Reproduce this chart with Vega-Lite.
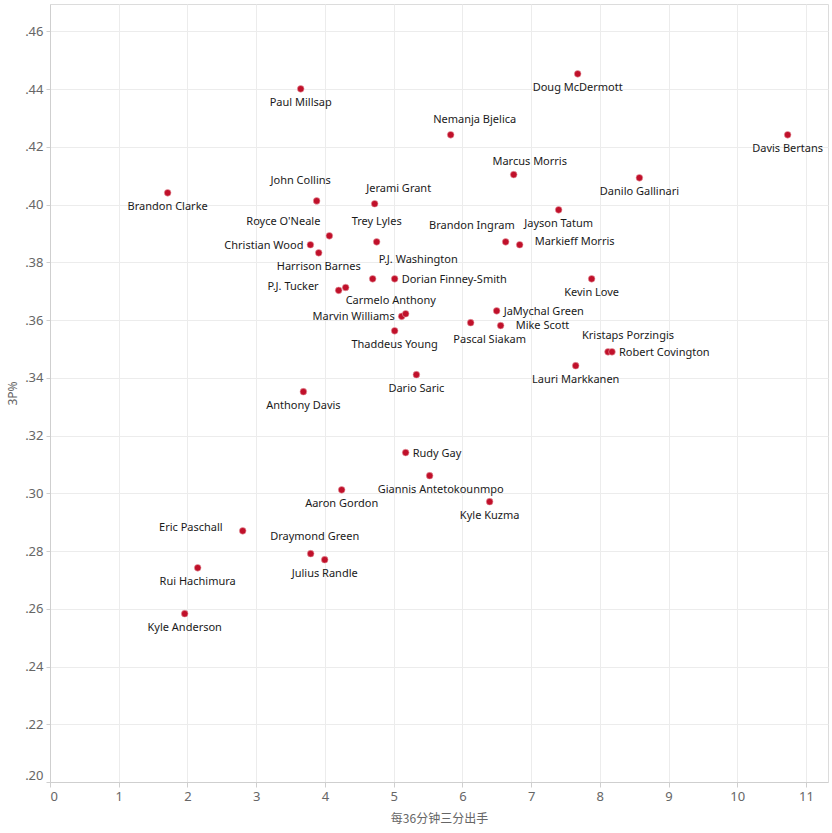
{
  "$schema": "https://vega.github.io/schema/vega-lite/v6.json",
  "width": 778,
  "height": 778,
  "autosize": "none",
  "padding": {"left": 50, "top": 4, "right": 4, "bottom": 51},
  "background": "white",
  "config": {
    "view": {"stroke": "#dcdcdc"},
    "text": {"font": "Noto Sans", "fontSize": 11, "color": "#1a1a1a", "baseline": "middle"}
  },
  "data": {"values": [
    {"player": "Paul Millsap", "x": 3.648, "y": 0.4401},
    {"player": "Brandon Clarke", "x": 1.712, "y": 0.4041},
    {"player": "John Collins", "x": 3.880, "y": 0.4013},
    {"player": "Jerami Grant", "x": 4.724, "y": 0.4003},
    {"player": "Royce O'Neale", "x": 4.065, "y": 0.3892},
    {"player": "Trey Lyles", "x": 4.753, "y": 0.3871},
    {"player": "Christian Wood", "x": 3.789, "y": 0.3861},
    {"player": "Harrison Barnes", "x": 3.910, "y": 0.3833},
    {"player": "P.J. Washington", "x": 4.695, "y": 0.3743},
    {"player": "Dorian Finney-Smith", "x": 5.015, "y": 0.3743},
    {"player": "P.J. Tucker", "x": 4.200, "y": 0.3703},
    {"player": "Carmelo Anthony", "x": 4.302, "y": 0.3713},
    {"player": "Marvin Williams", "x": 5.117, "y": 0.3613},
    {"player": "", "x": 5.175, "y": 0.3622},
    {"player": "Thaddeus Young", "x": 5.015, "y": 0.3563},
    {"player": "Dario Saric", "x": 5.331, "y": 0.3411},
    {"player": "Anthony Davis", "x": 3.687, "y": 0.3352},
    {"player": "Doug McDermott", "x": 7.678, "y": 0.4453},
    {"player": "Nemanja Bjelica", "x": 5.830, "y": 0.4242},
    {"player": "Davis Bertans", "x": 10.733, "y": 0.4242},
    {"player": "Marcus Morris", "x": 6.747, "y": 0.4104},
    {"player": "Danilo Gallinari", "x": 8.576, "y": 0.4093},
    {"player": "Jayson Tatum", "x": 7.401, "y": 0.3982},
    {"player": "Brandon Ingram", "x": 6.630, "y": 0.3871},
    {"player": "Markieff Morris", "x": 6.834, "y": 0.3861},
    {"player": "Kevin Love", "x": 7.881, "y": 0.3743},
    {"player": "JaMychal Green", "x": 6.499, "y": 0.3632},
    {"player": "Pascal Siakam", "x": 6.121, "y": 0.3591},
    {"player": "Mike Scott", "x": 6.557, "y": 0.3581},
    {"player": "Kristaps Porzingis", "x": 8.119, "y": 0.3490},
    {"player": "Robert Covington", "x": 8.177, "y": 0.3490},
    {"player": "Lauri Markkanen", "x": 7.649, "y": 0.3442},
    {"player": "Rudy Gay", "x": 5.175, "y": 0.3141},
    {"player": "Giannis Antetokounmpo", "x": 5.524, "y": 0.3061},
    {"player": "Kyle Kuzma", "x": 6.397, "y": 0.2971},
    {"player": "Aaron Gordon", "x": 4.244, "y": 0.3012},
    {"player": "Eric Paschall", "x": 2.804, "y": 0.2870},
    {"player": "Draymond Green", "x": 3.793, "y": 0.2791},
    {"player": "Julius Randle", "x": 3.997, "y": 0.2770},
    {"player": "Rui Hachimura", "x": 2.149, "y": 0.2742},
    {"player": "Kyle Anderson", "x": 1.960, "y": 0.2583}
  ]},
  "encoding": {
    "x": {
      "field": "x", "type": "quantitative",
      "scale": {"domain": [0, 11.32], "nice": false, "zero": false},
      "axis": {
        "title": "每36分钟三分出手",
        "titleFont": "Noto Sans CJK SC", "titleFontSize": 12, "titleFontWeight": "normal", "titleColor": "#666",
        "titlePadding": 10,
        "values": [0,1,2,3,4,5,6,7,8,9,10,11],
        "labelFlush": true,
        "labelFont": "Noto Sans", "labelFontSize": 13, "labelColor": "#666", "labelPadding": 3,
        "gridColor": "#ececec", "domainColor": "#cfcfcf", "tickColor": "#cfcfcf", "tickSize": 5
      }
    },
    "y": {
      "field": "y", "type": "quantitative",
      "scale": {"domain": [0.2, 0.4695], "nice": false, "zero": false},
      "axis": {
        "title": "3P%",
        "titleFont": "Noto Sans", "titleFontSize": 12, "titleFontWeight": "normal", "titleColor": "#666",
        "titlePadding": 5,
        "values": [0.2,0.22,0.24,0.26,0.28,0.3,0.32,0.34,0.36,0.38,0.4,0.42,0.44,0.46],
        "labelExpr": "replace(format(datum.value, '.2f'), '0.', '.')",
        "labelFlush": true,
        "labelFont": "Noto Sans", "labelFontSize": 13, "labelColor": "#666", "labelPadding": 3,
        "gridColor": "#ececec", "domainColor": "#cfcfcf", "tickColor": "#cfcfcf", "tickSize": 4
      }
    }
  },
  "layer": [
    {"mark": {"type": "point", "shape": "circle", "filled": true, "size": 45, "color": "#c0102a", "opacity": 1, "stroke": "#e8a0a8", "strokeWidth": 0.6}},
    {"transform": [{"filter": {"field": "player", "oneOf": ["Paul Millsap","Doug McDermott","Davis Bertans","Danilo Gallinari","Brandon Clarke","Jayson Tatum","Harrison Barnes","Kevin Love","Thaddeus Young","Lauri Markkanen","Dario Saric","Anthony Davis","Aaron Gordon","Kyle Kuzma","Julius Randle","Rui Hachimura","Kyle Anderson"]}}],
     "mark": {"type": "text", "align": "center", "dy": 14}, "encoding": {"text": {"field": "player"}}},
    {"transform": [{"filter": {"field": "player", "oneOf": ["Pascal Siakam"]}}],
     "mark": {"type": "text", "align": "center", "dx": 19, "dy": 17}, "encoding": {"text": {"field": "player"}}},
    {"transform": [{"filter": {"field": "player", "oneOf": ["Giannis Antetokounmpo"]}}],
     "mark": {"type": "text", "align": "center", "dx": 11, "dy": 14}, "encoding": {"text": {"field": "player"}}},
    {"transform": [{"filter": {"field": "player", "oneOf": ["Trey Lyles"]}}],
     "mark": {"type": "text", "align": "center", "dy": -20}, "encoding": {"text": {"field": "player"}}},
    {"transform": [{"filter": {"field": "player", "oneOf": ["John Collins"]}}],
     "mark": {"type": "text", "align": "center", "dx": -16, "dy": -20}, "encoding": {"text": {"field": "player"}}},
    {"transform": [{"filter": {"field": "player", "oneOf": ["Nemanja Bjelica", "Jerami Grant"]}}],
     "mark": {"type": "text", "align": "center", "dx": 24, "dy": -15}, "encoding": {"text": {"field": "player"}}},
    {"transform": [{"filter": {"field": "player", "oneOf": ["Marcus Morris"]}}],
     "mark": {"type": "text", "align": "center", "dx": 16, "dy": -13}, "encoding": {"text": {"field": "player"}}},
    {"transform": [{"filter": {"field": "player", "oneOf": ["Draymond Green"]}}],
     "mark": {"type": "text", "align": "center", "dx": 4, "dy": -17}, "encoding": {"text": {"field": "player"}}},
    {"transform": [{"filter": {"field": "player", "oneOf": ["Dorian Finney-Smith","Rudy Gay","JaMychal Green","Robert Covington"]}}],
     "mark": {"type": "text", "align": "left", "dx": 7, "dy": 1}, "encoding": {"text": {"field": "player"}}},
    {"transform": [{"filter": {"field": "player", "oneOf": ["Markieff Morris"]}}],
     "mark": {"type": "text", "align": "left", "dx": 15, "dy": -3}, "encoding": {"text": {"field": "player"}}},
    {"transform": [{"filter": {"field": "player", "oneOf": ["Mike Scott"]}}],
     "mark": {"type": "text", "align": "left", "dx": 15, "dy": 0}, "encoding": {"text": {"field": "player"}}},
    {"transform": [{"filter": {"field": "player", "oneOf": ["Christian Wood","Marvin Williams"]}}],
     "mark": {"type": "text", "align": "right", "dx": -7, "dy": 1}, "encoding": {"text": {"field": "player"}}},
    {"transform": [{"filter": {"field": "player", "oneOf": ["Eric Paschall","P.J. Tucker"]}}],
     "mark": {"type": "text", "align": "right", "dx": -20, "dy": -3}, "encoding": {"text": {"field": "player"}}},
    {"transform": [{"filter": {"field": "player", "oneOf": ["Royce O'Neale"]}}],
     "mark": {"type": "text", "align": "right", "dx": -9, "dy": -14}, "encoding": {"text": {"field": "player"}}},
    {"transform": [{"filter": {"field": "player", "oneOf": ["Brandon Ingram"]}}],
     "mark": {"type": "text", "align": "right", "dx": 9, "dy": -16}, "encoding": {"text": {"field": "player"}}},
    {"transform": [{"filter": {"field": "player", "oneOf": ["P.J. Washington"]}}],
     "mark": {"type": "text", "align": "left", "dx": 6, "dy": -19}, "encoding": {"text": {"field": "player"}}},
    {"transform": [{"filter": {"field": "player", "oneOf": ["Carmelo Anthony"]}}],
     "mark": {"type": "text", "align": "left", "dx": 0, "dy": 14}, "encoding": {"text": {"field": "player"}}},
    {"transform": [{"filter": {"field": "player", "oneOf": ["Kristaps Porzingis"]}}],
     "mark": {"type": "text", "align": "center", "dx": 20, "dy": -16}, "encoding": {"text": {"field": "player"}}}
  ]
}
